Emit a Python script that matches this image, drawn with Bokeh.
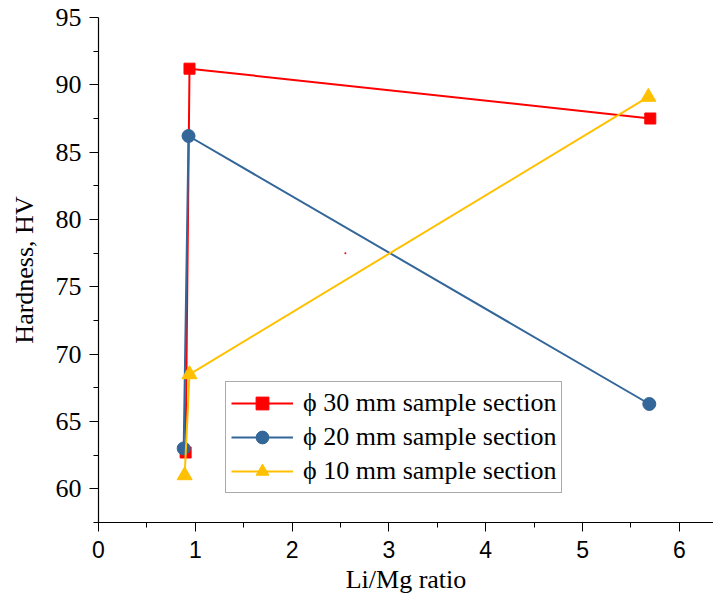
from bokeh.plotting import figure
from bokeh.embed import file_html
from bokeh.resources import INLINE
from bokeh.models import Legend, LegendItem, FixedTicker, Range1d

# data
x30 = [0.90, 0.94, 5.70]
y30 = [62.7, 91.2, 87.5]
x20 = [0.88, 0.93, 5.69]
y20 = [63.0, 86.2, 66.3]
x10 = [0.89, 0.94, 5.68]
y10 = [61.0, 68.5, 89.1]
stray_x = [2.55]
stray_y = [77.5]
labels = ["\u03d5 30 mm sample section", "\u03d5 20 mm sample section", "\u03d5 10 mm sample section"]
colors = ["#FF0000", "#336699", "#FFC000"]
yticks = [60, 65, 70, 75, 80, 85, 90, 95]
xticks = [0, 1, 2, 3, 4, 5, 6]

p = figure(width=713, height=596, output_backend="svg", toolbar_location=None,
           x_range=Range1d(0, 6.353), y_range=Range1d(57.5, 95))
p.min_border_left = 98
p.min_border_right = 0
p.min_border_top = 17
p.min_border_bottom = 72
p.outline_line_color = None
p.xgrid.visible = False
p.ygrid.visible = False

r1 = p.line(x30, y30, line_color=colors[0], line_width=2)
s1 = p.scatter(x30, y30, marker="square", size=11, fill_color=colors[0], line_color=colors[0])
r2 = p.line(x20, y20, line_color=colors[1], line_width=2)
s2 = p.scatter(x20, y20, marker="circle", size=13, fill_color=colors[1], line_color=colors[1])
r3 = p.line(x10, y10, line_color=colors[2], line_width=2)
s3 = p.scatter(x10, y10, marker="triangle", size=15, fill_color=colors[2], line_color=colors[2])
p.scatter(stray_x, stray_y, marker="circle", size=2, fill_color="#FF0000", line_color=None)

legend = Legend(items=[LegendItem(label=labels[0], renderers=[r1, s1]),
                       LegendItem(label=labels[1], renderers=[r2, s2]),
                       LegendItem(label=labels[2], renderers=[r3, s3])],
                location=(127, 29))
legend.label_text_font = "Liberation Serif"
legend.label_text_font_size = "26px"
legend.label_text_color = "black"
legend.border_line_color = "#555555"
legend.border_line_width = 1
legend.background_fill_alpha = 1
legend.glyph_width = 62
legend.glyph_height = 32
legend.label_height = 32
legend.spacing = 2
legend.padding = 5
legend.margin = 0
legend.label_standoff = 10
p.add_layout(legend, "center")

for ax in (p.xaxis[0], p.yaxis[0]):
    ax.axis_line_color = "black"
    ax.axis_line_width = 1.2
    ax.major_tick_line_color = "black"
    ax.minor_tick_line_color = "black"
    ax.major_tick_in = 0
    ax.major_tick_out = 9
    ax.minor_tick_in = 0
    ax.minor_tick_out = 5
    ax.major_label_text_color = "black"
    ax.axis_label_text_color = "black"
    ax.axis_label_text_font_style = "normal"
    ax.axis_label_text_font_size = "26px"
    ax.axis_label_text_font = "Liberation Serif"

p.yaxis[0].ticker = FixedTicker(ticks=yticks, minor_ticks=[57.5 + 5 * i for i in range(8)])
p.xaxis[0].ticker = FixedTicker(ticks=xticks, minor_ticks=[0.5 + i for i in range(7)])
p.yaxis[0].major_label_text_font = "Liberation Serif"
p.yaxis[0].major_label_text_font_size = "26px"
p.xaxis[0].major_label_text_font = "Liberation Sans"
p.xaxis[0].major_label_text_font_size = "23px"
p.yaxis[0].axis_label = "Hardness, HV"
p.xaxis[0].axis_label = "Li/Mg ratio"
p.yaxis[0].major_label_standoff = 8
p.xaxis[0].major_label_standoff = 9
p.yaxis[0].axis_label_standoff = 14
p.xaxis[0].axis_label_standoff = 4

open("out.html", "w").write(file_html(p, INLINE))
